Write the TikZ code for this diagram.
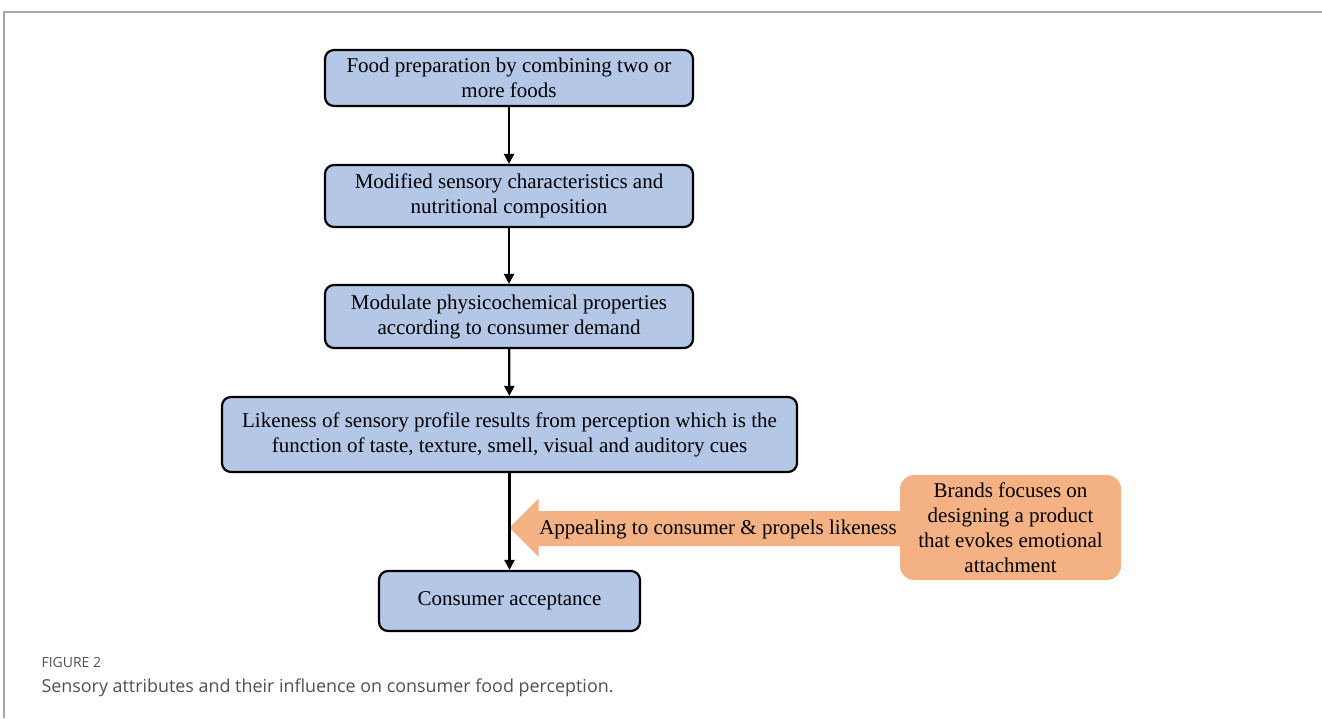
\documentclass[tikz,border=0pt]{standalone}
\usepackage{fontspec}
\setmainfont{Liberation Serif}
\newfontfamily\capfont{Open Sans}
\usetikzlibrary{arrows.meta,calc}
\definecolor{boxblue}{HTML}{B4C7E7}
\definecolor{boxorange}{HTML}{F4B183}
\definecolor{framegray}{HTML}{A6A6A6}
\definecolor{captiongray}{HTML}{505050}
\begin{document}
\begin{tikzpicture}[x=1pt,y=-1pt,
  flowbox/.style={draw=black, line width=2.2pt, fill=boxblue, rounded corners=9pt,
    align=center, inner sep=0pt, font=\fontsize{21}{25}\selectfont},
  brandbox/.style={fill=boxorange, rounded corners=14pt, align=center, inner sep=0pt,
    font=\fontsize{21}{25}\selectfont, minimum width=221pt, minimum height=105pt},
  flowarrow/.style={line width=2.3pt, -{Triangle[length=10pt,width=10pt]}},
  captionhead/.style={anchor=west, text=captiongray, font=\capfont\fontsize{14}{16}\selectfont},
  captiontext/.style={anchor=west, text=captiongray, font=\capfont\fontsize{17.9}{21}\selectfont}]
\useasboundingbox (0,0) rectangle (1322,718);
% frame lines
\draw[framegray, line width=1.2pt] (4,718) -- (4,12) -- (1322,12);

% main flow
\node[flowbox, minimum width=368pt, minimum height=56pt] (b1) at (509,78)
  {Food preparation by combining two or\\more foods};
\node[flowbox, minimum width=368pt, minimum height=62pt] (b2) at (509,196)
  {Modified sensory characteristics and\\nutritional composition};
\node[flowbox, minimum width=368pt, minimum height=63pt] (b3) at (509,316.5)
  {Modulate physicochemical properties\\according to consumer demand};
\node[flowbox, minimum width=575pt, minimum height=75pt] (b4) at (509.5,434.5)
  {Likeness of sensory profile results from perception which is the\\function of taste, texture, smell, visual and auditory cues};
\node[flowbox, minimum width=261pt, minimum height=60pt] (b5) at (509.5,601)
  {Consumer acceptance};

% brand influence box and block arrow
\node[brandbox] (brand) at (1010.5,527.5)
  {Brands focuses on\\designing a product\\that evokes emotional\\attachment};
\coordinate (tip) at (b4.south |- brand.west);
\fill[boxorange] (tip) -- ($(tip)+(29,-29)$) -- ($(tip)+(29,-16.5)$)
  -- ($(brand.west)+(2,-16.5)$) -- ($(brand.west)+(2,18.5)$)
  -- ($(tip)+(29,18.5)$) -- ($(tip)+(29,29)$) -- cycle;
\node[font=\fontsize{21}{25}\selectfont, inner sep=0pt] (appeal) at (718,529)
  {Appealing to consumer \& propels likeness};

% connectors
\draw[flowarrow] (b1) -- (b2);
\draw[flowarrow] (b2) -- (b3);
\draw[flowarrow] (b3) -- (b4);
\draw[flowarrow] (b4) -- (b5);

% caption
\node[captionhead] (fig) at (38,662) {FIGURE 2};
\node[captiontext] (cap) at (38,688) {Sensory attributes and their influence on consumer food perception.};
\end{tikzpicture}
\end{document}
